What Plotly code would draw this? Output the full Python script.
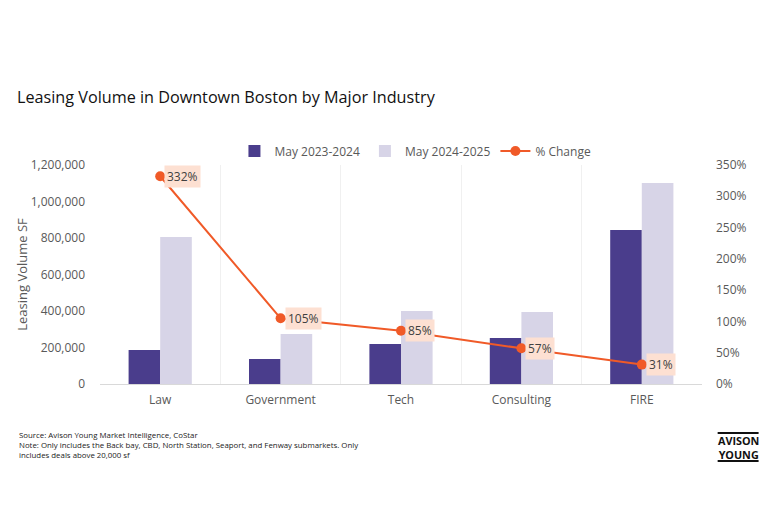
import plotly.graph_objects as go

industries = ["Law", "Government", "Tech", "Consulting", "FIRE"]
volume_2324 = [186000, 137000, 219000, 252000, 844000]
volume_2425 = [805000, 274000, 400000, 394000, 1101000]
pct_change = [3.32, 1.05, 0.85, 0.57, 0.31]
pct_labels = ["332%", "105%", "85%", "57%", "31%"]

DARK = "#4a3d8c"
LIGHT = "#d7d4e7"
ORANGE = "#f05a28"
GREY = "#595959"

# the page body adds an 8px margin, so the figure is drawn smaller to fit the window
W, H = 752, 507

fig = go.Figure()
fig.add_trace(go.Bar(x=industries, y=volume_2324, name="May 2023-2024",
                     marker=dict(color=DARK, line=dict(width=0))))
fig.add_trace(go.Bar(x=industries, y=volume_2425, name="May 2024-2025",
                     marker=dict(color=LIGHT, line=dict(width=0))))
fig.add_trace(go.Scatter(x=industries, y=pct_change, name="% Change", yaxis="y2",
                         mode="lines+markers",
                         line=dict(color=ORANGE, width=2),
                         marker=dict(color=ORANGE, size=10)))

# data labels next to each point
for cat, val, lab in zip(industries, pct_change, pct_labels):
    fig.add_annotation(x=cat, y=val, yref="y2", text=lab, showarrow=False,
                       xanchor="left", xshift=4, bgcolor="#fde0d2",
                       font=dict(size=12, color="#404040"), borderpad=2)

fig.add_annotation(xref="paper", yref="paper", x=-0.138, y=-0.2,
                   xanchor="left", yanchor="top", align="left", showarrow=False,
                   text="Source: Avison Young Market Intelligence, CoStar<br>"
                        "Note: Only includes the Back bay, CBD, North Station, Seaport, and Fenway submarkets. Only<br>"
                        "includes deals above 20,000 sf",
                   font=dict(size=7.85, color="#222222", family="Open Sans"))

# logo
fig.add_annotation(xref="paper", yref="paper", x=1.06, y=-0.288,
                   xanchor="center", yanchor="middle", showarrow=False,
                   text="<b>AVISON<br>YOUNG</b>", borderpad=0,
                   font=dict(size=10.8, color="#111111", family="Open Sans"))
for yy in [-0.224, -0.352]:
    fig.add_shape(type="line", xref="paper", yref="paper",
                  x0=1.026, x1=1.094, y0=yy, y1=yy,
                  line=dict(color="#111111", width=2))

fig.update_layout(
    width=W, height=H,
    margin=dict(l=92, r=58, t=157, b=131),
    paper_bgcolor="white", plot_bgcolor="white",
    font=dict(family="Open Sans", color=GREY, size=12),
    title=dict(text="Leasing Volume in Downtown Boston by Major Industry",
               xref="container", yref="container", x=9 / W, xanchor="left",
               y=1 - 89 / H, yanchor="middle",
               font=dict(size=16.2, color="#111111")),
    barmode="group", bargap=0.475, bargroupgap=0,
    legend=dict(orientation="h", x=0.524, xanchor="center", y=1.064, yanchor="middle",
                font=dict(size=12, color=GREY), itemwidth=30, traceorder="normal"),
    xaxis=dict(tickson="boundaries", showgrid=True, gridcolor="#f0f0f0",
               showline=True, linecolor="#d9d9d9", linewidth=1, ticks="",
               ticklabelstandoff=5, tickfont=dict(size=12, color=GREY)),
    yaxis=dict(range=[0, 1200000], dtick=200000, tickformat=",d", showgrid=False,
               ticklabelstandoff=14,
               title=dict(text="Leasing Volume SF", font=dict(size=13, color=GREY), standoff=0),
               zeroline=False, tickfont=dict(size=12, color=GREY)),
    yaxis2=dict(range=[0, 3.5], dtick=0.5, tickformat=".0%", overlaying="y",
                side="right", showgrid=False, zeroline=False, ticklabelstandoff=13,
                tickfont=dict(size=12, color=GREY)),
)

fig.write_html("out.html")
